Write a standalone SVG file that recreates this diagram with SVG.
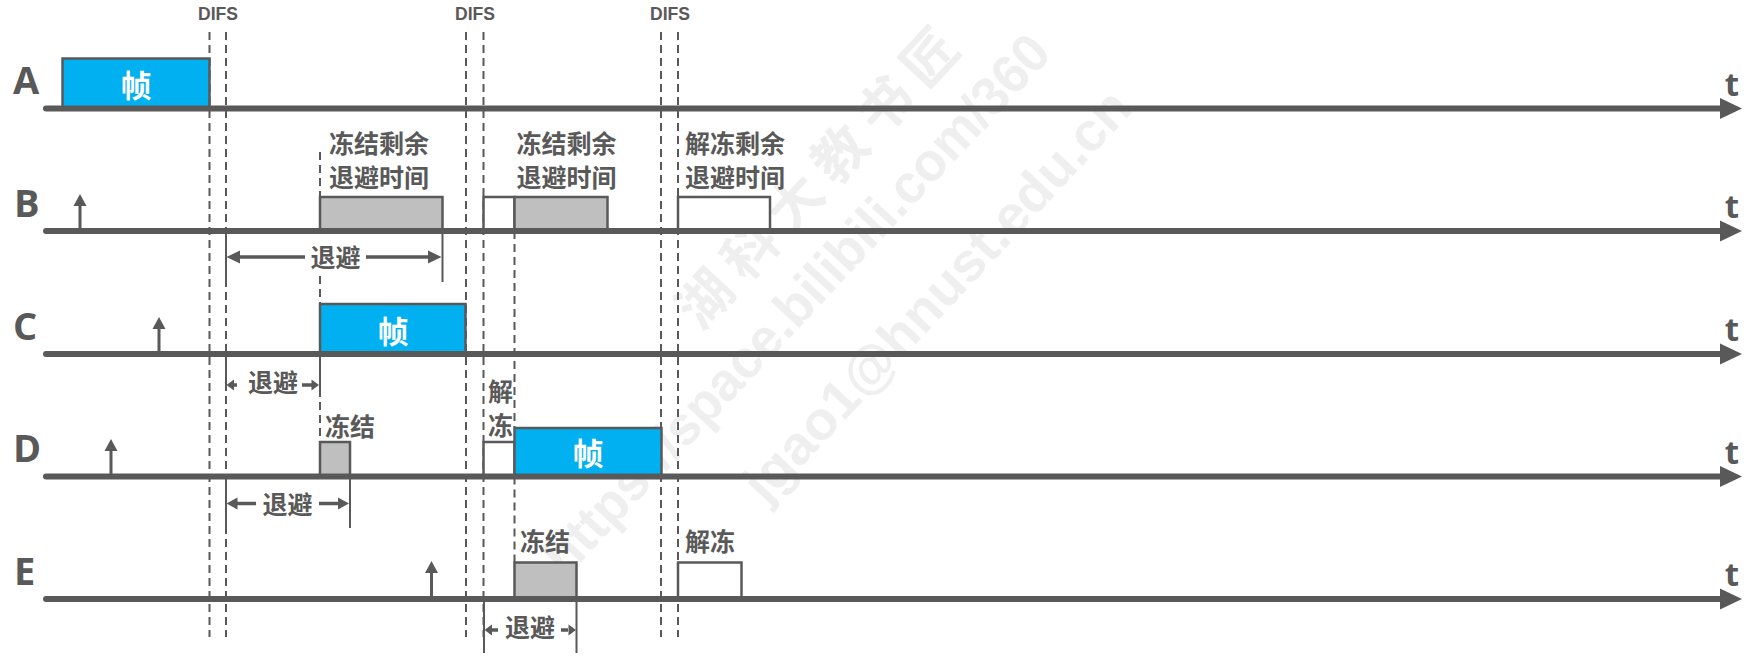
<svg xmlns="http://www.w3.org/2000/svg" width="1763" height="667" viewBox="0 0 1763 667">
<style>
.lbl{font-family:'Open Sans','Liberation Sans',sans-serif;font-weight:700;fill:#595959}
.row{font-size:38px}
.t{font-size:33px;text-anchor:middle}
.difs{font-family:'Liberation Sans',sans-serif;font-weight:700;font-size:19px;fill:#595959;text-anchor:middle}
.cjk{font-family:'Noto Sans CJK SC',sans-serif;font-weight:700;font-size:25px;fill:#595959}
.mid{text-anchor:middle}
.ft{font-family:'Noto Sans CJK SC',sans-serif;font-weight:700;font-size:31px;fill:#fff;text-anchor:middle}
.axis{stroke:#595959;stroke-width:6;fill:none;stroke-linecap:round}
.dash{stroke:#595959;stroke-width:2;stroke-dasharray:8 5;fill:none}
.solid{stroke:#595959;stroke-width:2;fill:none}
.dim{stroke:#595959;stroke-width:3.5;fill:none}
.frame{fill:#00B0F0;stroke:#595959;stroke-width:2.5}
.busy{fill:#BFBFBF;stroke:#595959;stroke-width:2.5}
.idle{fill:#fff;stroke:#595959;stroke-width:2.5}
.up{stroke:#595959;stroke-width:3;fill:none}
.arr{fill:#595959}
.wm{font-family:'Liberation Sans','Noto Sans CJK SC',sans-serif;font-weight:700;fill:#efefef}
</style>

<g id="watermark">
<text class="wm" font-size="54" letter-spacing="12" transform="translate(686,318) rotate(-47)" y="20" style="font-family:'Noto Sans CJK SC',sans-serif">湖科大教书匠</text>
<text class="wm" font-size="54" transform="translate(552,565) rotate(-47)" y="19" textLength="715" lengthAdjust="spacingAndGlyphs">https://space.bilibili.com/360</text>
<text class="wm" font-size="54" transform="translate(752,492) rotate(-47)" y="19" textLength="540" lengthAdjust="spacingAndGlyphs">jgao1@hnust.edu.cn</text>
</g>

<g id="difs">
<text class="difs" x="218" y="20" textLength="40" lengthAdjust="spacingAndGlyphs">DIFS</text>
<text class="difs" x="475" y="20" textLength="40" lengthAdjust="spacingAndGlyphs">DIFS</text>
<text class="difs" x="670" y="20" textLength="40" lengthAdjust="spacingAndGlyphs">DIFS</text>
</g>

<g id="connectors">
<path class="dash" d="M209.5,32V637M226,32V637M466,32V637M483.5,32V637M661,32V637M678,32V637"/>
<path class="dash" d="M320,152V197M320,276V304M320,389V442M514.5,231V428M514.5,476.5V562"/>
<path class="solid" d="M226,231V283M442.5,231V282M226,354V389M320,354V389M226,476.5V528M350,476.5V528M484,599V653M576.5,599V653"/>
<path class="dim" d="M239,257H305M366,257H429"/>
<polygon class="arr" points="226.5,257 240,250.5 240,263.5"/>
<polygon class="arr" points="441.5,257 428,250.5 428,263.5"/>
<path class="dim" d="M232,385H237M302,385H313"/>
<polygon class="arr" points="226.5,385 234,379.5 234,390.5"/>
<polygon class="arr" points="319,385 311.5,379.5 311.5,390.5"/>
<path class="dim" d="M236,503.5H256M319,503.5H340"/>
<polygon class="arr" points="226.5,503.5 237.5,497.5 237.5,509.5"/>
<polygon class="arr" points="349,503.5 338,497.5 338,509.5"/>
<path class="dim" d="M491,630H498M561,630H568"/>
<polygon class="arr" points="484.5,630 492,624.5 492,635.5"/>
<polygon class="arr" points="576,630 568.5,624.5 568.5,635.5"/>
</g>

<g id="rowA">
<text class="lbl row" x="13" y="94">A</text>
<rect class="frame" x="62.5" y="58.5" width="147" height="50"/>
<text class="ft" x="136" y="97">帧</text>
<path class="axis" d="M46,108.5H1722"/>
<polygon class="arr" points="1720,98 1742,108.5 1720,119"/>
<text class="lbl t" x="1732" y="95.5">t</text>
</g>

<g id="rowB">
<text class="lbl row" x="14" y="216.5">B</text>
<path class="up" d="M80,231V204"/>
<polygon class="arr" points="73.5,206 80,194 86.5,206"/>
<rect class="busy" x="320" y="197" width="122.5" height="34"/>
<rect class="idle" x="483.5" y="197" width="31" height="34"/>
<rect class="busy" x="514.5" y="197" width="93" height="34"/>
<rect class="idle" x="678" y="197" width="92" height="34"/>
<text class="cjk" x="329" y="152.5">冻结剩余</text>
<text class="cjk" x="329" y="186.5">退避时间</text>
<text class="cjk" x="516.5" y="152.5">冻结剩余</text>
<text class="cjk" x="516.5" y="186.5">退避时间</text>
<text class="cjk" x="685" y="152.5">解冻剩余</text>
<text class="cjk" x="685" y="186.5">退避时间</text>
<text class="cjk mid" x="335.5" y="267">退避</text>
<path class="axis" d="M46,231H1722"/>
<polygon class="arr" points="1720,220.5 1742,231 1720,241.5"/>
<text class="lbl t" x="1732" y="218">t</text>
</g>

<g id="rowC">
<text class="lbl row" x="13" y="339.5">C</text>
<path class="up" d="M159,354V327"/>
<polygon class="arr" points="152.5,329 159,317 165.5,329"/>
<rect class="frame" x="320" y="304" width="145.5" height="50"/>
<text class="ft" x="393" y="342.5">帧</text>
<text class="cjk mid" x="273" y="391.5">退避</text>
<path class="axis" d="M46,354H1722"/>
<polygon class="arr" points="1720,343.5 1742,354 1720,364.5"/>
<text class="lbl t" x="1732" y="341">t</text>
</g>

<g id="rowD">
<text class="lbl row" x="13" y="462">D</text>
<path class="up" d="M111,476.5V449"/>
<polygon class="arr" points="104.5,451 111,439 117.5,451"/>
<rect class="busy" x="320" y="442" width="30" height="34.5"/>
<rect class="idle" x="483.5" y="442" width="31" height="34.5"/>
<rect class="frame" x="514.5" y="428" width="147" height="48.5"/>
<text class="ft" x="588" y="465">帧</text>
<text class="cjk" x="325" y="435.5">冻结</text>
<text class="cjk mid" x="500.5" y="401">解</text>
<text class="cjk mid" x="500.5" y="434.5">冻</text>
<text class="cjk mid" x="287.5" y="513.5">退避</text>
<path class="axis" d="M46,476.5H1722"/>
<polygon class="arr" points="1720,466 1742,476.5 1720,487"/>
<text class="lbl t" x="1732" y="463.5">t</text>
</g>

<g id="rowE">
<text class="lbl row" x="14" y="584.5">E</text>
<path class="up" d="M431.5,599V571"/>
<polygon class="arr" points="425,573 431.5,561 438,573"/>
<rect class="busy" x="514.5" y="562.5" width="62" height="36.5"/>
<rect class="idle" x="678" y="562.5" width="63.5" height="36.5"/>
<text class="cjk" x="520" y="550.5">冻结</text>
<text class="cjk" x="685" y="550.5">解冻</text>
<text class="cjk mid" x="530" y="637">退避</text>
<path class="axis" d="M46,599H1722"/>
<polygon class="arr" points="1720,588.5 1742,599 1720,609.5"/>
<text class="lbl t" x="1732" y="586">t</text>
</g>
</svg>
